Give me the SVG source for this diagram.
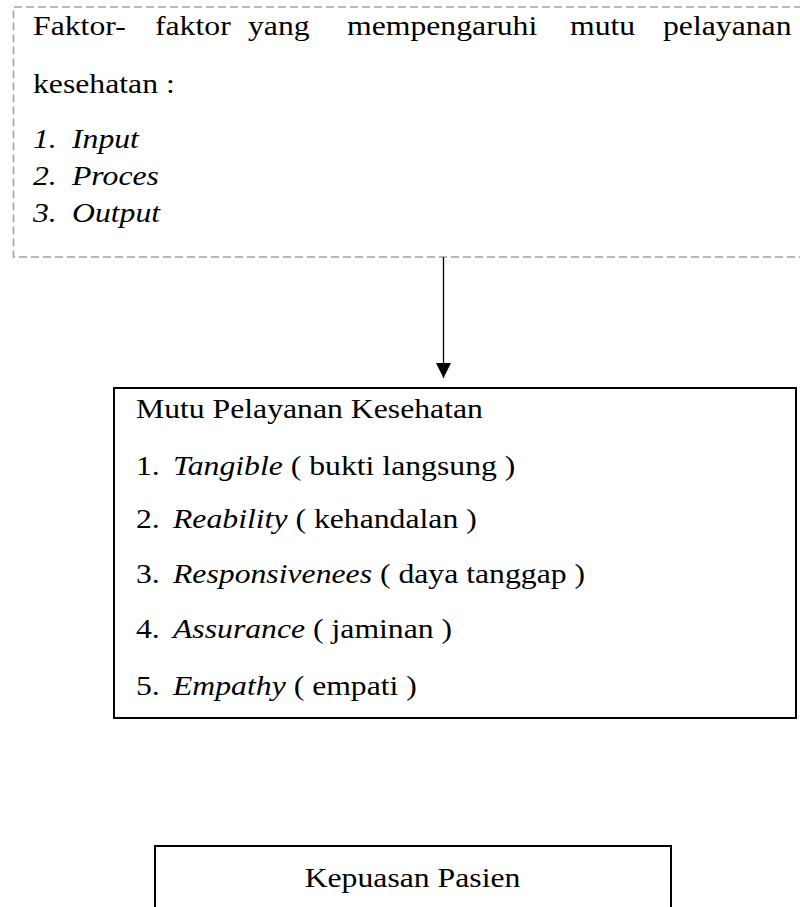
<svg xmlns="http://www.w3.org/2000/svg" width="800" height="907" viewBox="0 0 800 907">
<style>
.t{font-family:"Liberation Serif","Times New Roman",serif;font-size:28px;fill:#000}
.i{font-style:italic}
.dash{fill:none;stroke:#a3a3a3;stroke-width:1.6;stroke-dasharray:8 4}
.box{fill:none;stroke:#000;stroke-width:2}
.conn{stroke:#000;stroke-width:1.3;fill:none}
</style>
<defs>
<marker id="ah" markerWidth="15" markerHeight="15" refX="15" refY="7.5" orient="auto" markerUnits="userSpaceOnUse">
<path d="M0,0 L15,7.5 L0,15 Z" fill="#000"/>
</marker>
</defs>
<rect width="800" height="907" fill="#fff"/>
<g id="node-faktor">
<path class="dash" d="M802,7 H13.5 V257 H802"/>
<g transform="scale(1.133 1)">
<text class="t" y="35"><tspan x="29.13">Faktor-</tspan><tspan x="136.8">faktor</tspan><tspan x="218.9">yang</tspan><tspan x="306.3">mempengaruhi</tspan><tspan x="503.1">mutu</tspan><tspan x="585.2">pelayanan</tspan></text>
<text class="t" x="29.13" y="93">kesehatan :</text>
<text class="t i" y="148"><tspan x="29.13">1.</tspan><tspan x="63.55">Input</tspan></text>
<text class="t i" y="185"><tspan x="29.13">2.</tspan><tspan x="63.55">Proces</tspan></text>
<text class="t i" y="222"><tspan x="29.13">3.</tspan><tspan x="63.55">Output</tspan></text>
</g>
</g>
<g id="connectors">
<line class="conn" x1="443.5" y1="257" x2="443.5" y2="378" marker-end="url(#ah)"/>
</g>
<g id="node-mutu">
<rect class="box" x="114" y="388" width="682" height="330"/>
<g transform="scale(1.133 1)">
<text class="t" x="120" y="418">Mutu Pelayanan Kesehatan</text>
<text class="t" y="475"><tspan x="120">1.</tspan><tspan x="152.7" class="i">Tangible</tspan> ( bukti langsung )</text>
<text class="t" y="528"><tspan x="120">2.</tspan><tspan x="152.7" class="i">Reability</tspan> ( kehandalan )</text>
<text class="t" y="583"><tspan x="120">3.</tspan><tspan x="152.7" class="i">Responsivenees</tspan> ( daya tanggap )</text>
<text class="t" y="638"><tspan x="120">4.</tspan><tspan x="152.7" class="i">Assurance</tspan> ( jaminan )</text>
<text class="t" y="695"><tspan x="120">5.</tspan><tspan x="152.7" class="i">Empathy</tspan> ( empati )</text>
</g>
</g>
<g id="node-kepuasan">
<rect class="box" x="155" y="846" width="516" height="80"/>
<g transform="scale(1.133 1)">
<text class="t" x="364.1" y="887" text-anchor="middle">Kepuasan Pasien</text>
</g>
</g>
</svg>
